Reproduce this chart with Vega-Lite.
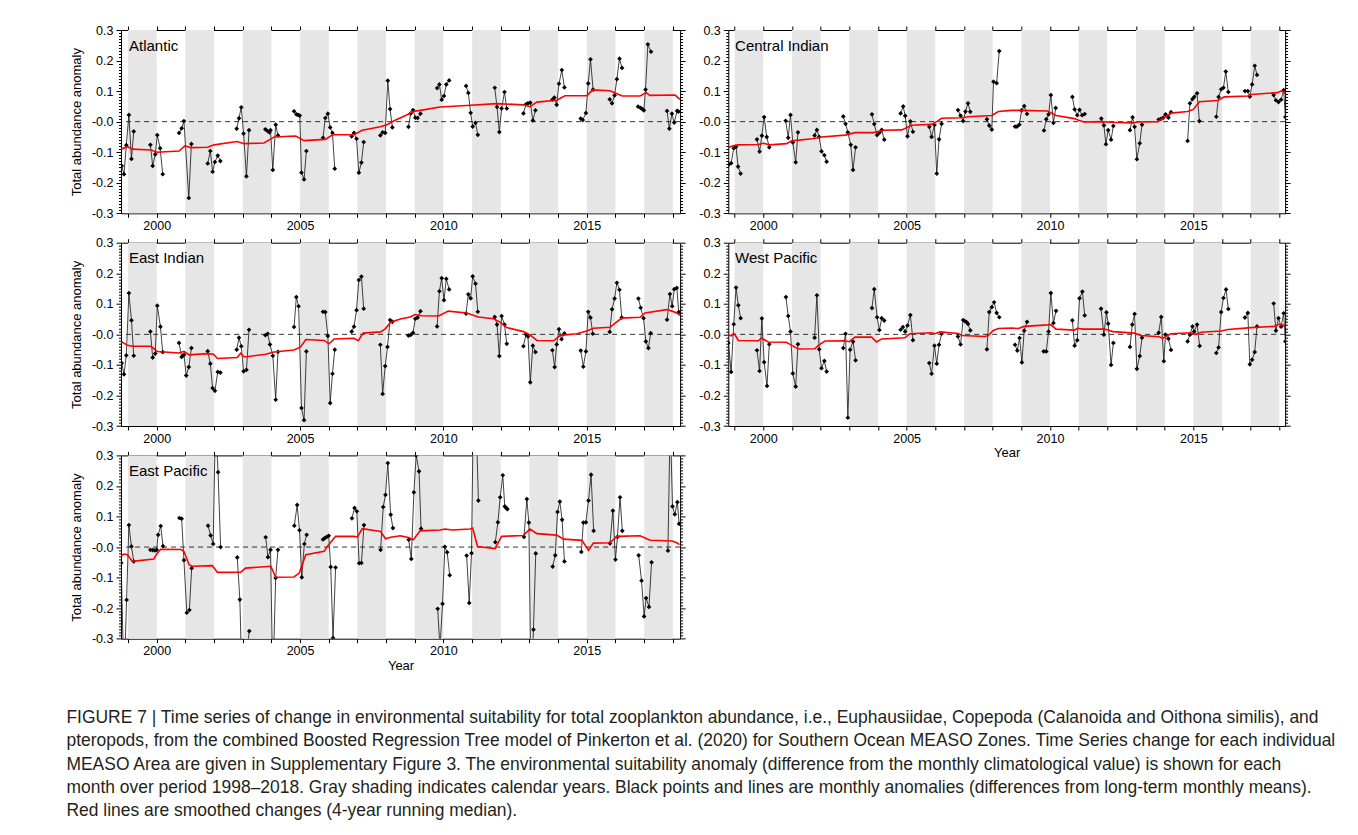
{
"$schema":"https://vega.github.io/schema/vega-lite/v6.json",
"background":"white",
"padding":{"left":66,"top":24,"right":5,"bottom":5},
"config":{"view":{"stroke":null},"font":"Liberation Sans","axis":{"domainColor":"#000","tickColor":"#000","labelColor":"#000","titleColor":"#000","labelFont":"Liberation Sans","titleFont":"Liberation Sans","labelFontSize":12.5,"titleFontSize":13,"titleFontWeight":"normal","grid":false,"domainWidth":1,"tickWidth":1}},
"title":{"text":["FIGURE 7 | Time series of change in environmental suitability for total zooplankton abundance, i.e., Euphausiidae, Copepoda (Calanoida and Oithona similis), and","pteropods, from the combined Boosted Regression Tree model of Pinkerton et al. (2020) for Southern Ocean MEASO Zones. Time Series change for each individual","MEASO Area are given in Supplementary Figure 3. The environmental suitability anomaly (difference from the monthly climatological value) is shown for each","month over period 1998–2018. Gray shading indicates calendar years. Black points and lines are monthly anomalies (differences from long-term monthly means).","Red lines are smoothed changes (4-year running median)."],"orient":"bottom","anchor":"start","frame":"bounds","fontSize":17.45,"fontWeight":"normal","font":"Liberation Sans","color":"#231f20","lineHeight":23.3,"offset":37,"dx":-4},
"datasets":{
"shade":[{"s":1999,"e":2000},{"s":2001,"e":2002},{"s":2003,"e":2004},{"s":2005,"e":2006},{"s":2007,"e":2008},{"s":2009,"e":2010},{"s":2011,"e":2012},{"s":2013,"e":2014},{"s":2015,"e":2016},{"s":2017,"e":2018}],
"pts":[
{"p":"A","g":98,"t":1998.78,"v":-0.145},{"p":"A","g":98,"t":1998.86,"v":-0.172},{"p":"A","g":98,"t":1998.94,"v":-0.077},{"p":"A","g":98,"t":1999.03,"v":0.022},{"p":"A","g":98,"t":1999.12,"v":-0.122},{"p":"A","g":98,"t":1999.2,"v":-0.032},
{"p":"A","g":99,"t":1999.78,"v":-0.076},{"p":"A","g":99,"t":1999.86,"v":-0.145},{"p":"A","g":99,"t":1999.95,"v":-0.107},{"p":"A","g":99,"t":2000.02,"v":-0.044},{"p":"A","g":99,"t":2000.12,"v":-0.087},{"p":"A","g":99,"t":2000.21,"v":-0.172},
{"p":"A","g":0,"t":2000.78,"v":-0.037},{"p":"A","g":0,"t":2000.87,"v":-0.022},{"p":"A","g":0,"t":2000.95,"v":0.002},{"p":"A","g":0,"t":2001.12,"v":-0.25},{"p":"A","g":0,"t":2001.21,"v":-0.073},
{"p":"A","g":1,"t":2001.78,"v":-0.137},{"p":"A","g":1,"t":2001.87,"v":-0.096},{"p":"A","g":1,"t":2001.95,"v":-0.164},{"p":"A","g":1,"t":2002.03,"v":-0.132},{"p":"A","g":1,"t":2002.13,"v":-0.111},{"p":"A","g":1,"t":2002.22,"v":-0.129},
{"p":"A","g":2,"t":2002.79,"v":-0.023},{"p":"A","g":2,"t":2002.87,"v":0.011},{"p":"A","g":2,"t":2002.95,"v":0.047},{"p":"A","g":2,"t":2003.03,"v":-0.039},{"p":"A","g":2,"t":2003.13,"v":-0.179},{"p":"A","g":2,"t":2003.22,"v":-0.028},
{"p":"A","g":3,"t":2003.79,"v":-0.025},{"p":"A","g":3,"t":2003.87,"v":-0.031},{"p":"A","g":3,"t":2003.93,"v":-0.035},{"p":"A","g":3,"t":2003.97,"v":-0.028},{"p":"A","g":3,"t":2004.05,"v":-0.158},{"p":"A","g":3,"t":2004.15,"v":-0.01},{"p":"A","g":3,"t":2004.23,"v":-0.045},
{"p":"A","g":4,"t":2004.79,"v":0.034},{"p":"A","g":4,"t":2004.87,"v":0.024},{"p":"A","g":4,"t":2004.93,"v":0.022},{"p":"A","g":4,"t":2004.99,"v":0.02},{"p":"A","g":4,"t":2005.05,"v":-0.167},{"p":"A","g":4,"t":2005.14,"v":-0.189},{"p":"A","g":4,"t":2005.22,"v":-0.096},
{"p":"A","g":5,"t":2005.8,"v":-0.053},{"p":"A","g":5,"t":2005.88,"v":0.012},{"p":"A","g":5,"t":2005.97,"v":0.026},{"p":"A","g":5,"t":2006.05,"v":-0.019},{"p":"A","g":5,"t":2006.13,"v":-0.037},{"p":"A","g":5,"t":2006.21,"v":-0.154},
{"p":"A","g":6,"t":2006.8,"v":-0.048},{"p":"A","g":6,"t":2006.88,"v":-0.037},{"p":"A","g":6,"t":2006.97,"v":-0.056},{"p":"A","g":6,"t":2007.05,"v":-0.167},{"p":"A","g":6,"t":2007.14,"v":-0.134},{"p":"A","g":6,"t":2007.22,"v":-0.067},
{"p":"A","g":7,"t":2007.8,"v":-0.045},{"p":"A","g":7,"t":2007.88,"v":-0.035},{"p":"A","g":7,"t":2007.97,"v":-0.037},{"p":"A","g":7,"t":2008.06,"v":0.134},{"p":"A","g":7,"t":2008.14,"v":0.041},{"p":"A","g":7,"t":2008.22,"v":-0.019},
{"p":"A","g":8,"t":2008.78,"v":-0.017},{"p":"A","g":8,"t":2008.86,"v":0.027},{"p":"A","g":8,"t":2008.94,"v":0.038},{"p":"A","g":8,"t":2009.02,"v":0.013},{"p":"A","g":8,"t":2009.1,"v":0.012},{"p":"A","g":8,"t":2009.2,"v":0.026},
{"p":"A","g":9,"t":2009.78,"v":0.11},{"p":"A","g":9,"t":2009.86,"v":0.122},{"p":"A","g":9,"t":2009.94,"v":0.072},{"p":"A","g":9,"t":2010.02,"v":0.084},{"p":"A","g":9,"t":2010.1,"v":0.122},{"p":"A","g":9,"t":2010.2,"v":0.135},
{"p":"A","g":10,"t":2010.79,"v":0.117},{"p":"A","g":10,"t":2010.87,"v":0.094},{"p":"A","g":10,"t":2010.95,"v":0.029},{"p":"A","g":10,"t":2011.02,"v":-0.016},{"p":"A","g":10,"t":2011.12,"v":-0.004},{"p":"A","g":10,"t":2011.2,"v":-0.043},
{"p":"A","g":11,"t":2011.79,"v":0.111},{"p":"A","g":11,"t":2011.87,"v":0.048},{"p":"A","g":11,"t":2011.95,"v":-0.034},{"p":"A","g":11,"t":2012.03,"v":0.043},{"p":"A","g":11,"t":2012.13,"v":0.097},{"p":"A","g":11,"t":2012.21,"v":0.043},
{"p":"A","g":12,"t":2012.79,"v":0.027},{"p":"A","g":12,"t":2012.88,"v":0.057},{"p":"A","g":12,"t":2012.95,"v":0.06},{"p":"A","g":12,"t":2013.03,"v":0.062},{"p":"A","g":12,"t":2013.12,"v":0.004},{"p":"A","g":12,"t":2013.21,"v":0.037},
{"p":"A","g":13,"t":2013.8,"v":0.072},{"p":"A","g":13,"t":2013.87,"v":0.079},{"p":"A","g":13,"t":2013.95,"v":0.055},{"p":"A","g":13,"t":2014.03,"v":0.124},{"p":"A","g":13,"t":2014.13,"v":0.169},{"p":"A","g":13,"t":2014.22,"v":0.112},
{"p":"A","g":14,"t":2014.79,"v":0.01},{"p":"A","g":14,"t":2014.86,"v":0.005},{"p":"A","g":14,"t":2014.97,"v":0.028},{"p":"A","g":14,"t":2015.05,"v":0.125},{"p":"A","g":14,"t":2015.13,"v":0.204},{"p":"A","g":14,"t":2015.22,"v":0.105},
{"p":"A","g":15,"t":2015.8,"v":0.073},{"p":"A","g":15,"t":2015.88,"v":0.06},{"p":"A","g":15,"t":2015.97,"v":0.086},{"p":"A","g":15,"t":2016.05,"v":0.139},{"p":"A","g":15,"t":2016.14,"v":0.206},{"p":"A","g":15,"t":2016.23,"v":0.176},
{"p":"A","g":16,"t":2016.79,"v":0.049},{"p":"A","g":16,"t":2016.88,"v":0.045},{"p":"A","g":16,"t":2016.94,"v":0.041},{"p":"A","g":16,"t":2016.99,"v":0.037},{"p":"A","g":16,"t":2017.05,"v":0.105},{"p":"A","g":16,"t":2017.13,"v":0.253},{"p":"A","g":16,"t":2017.24,"v":0.229},
{"p":"A","g":17,"t":2017.8,"v":0.035},{"p":"A","g":17,"t":2017.88,"v":-0.023},{"p":"A","g":17,"t":2017.97,"v":0.026},{"p":"A","g":17,"t":2018.05,"v":-0.003},{"p":"A","g":17,"t":2018.15,"v":0.035},{"p":"A","g":17,"t":2018.2,"v":0.033},
{"p":"C","g":98,"t":1998.8,"v":-0.14},{"p":"C","g":98,"t":1998.88,"v":-0.136},{"p":"C","g":98,"t":1998.97,"v":-0.087},{"p":"C","g":98,"t":1999.05,"v":-0.082},{"p":"C","g":98,"t":1999.12,"v":-0.147},{"p":"C","g":98,"t":1999.21,"v":-0.17},
{"p":"C","g":99,"t":1999.78,"v":-0.058},{"p":"C","g":99,"t":1999.87,"v":-0.098},{"p":"C","g":99,"t":1999.95,"v":-0.046},{"p":"C","g":99,"t":2000.03,"v":0.015},{"p":"C","g":99,"t":2000.12,"v":-0.05},{"p":"C","g":99,"t":2000.21,"v":-0.084},
{"p":"C","g":0,"t":2000.78,"v":0.003},{"p":"C","g":0,"t":2000.87,"v":-0.053},{"p":"C","g":0,"t":2000.95,"v":0.022},{"p":"C","g":0,"t":2001.03,"v":-0.068},{"p":"C","g":0,"t":2001.13,"v":-0.133},{"p":"C","g":0,"t":2001.21,"v":-0.035},
{"p":"C","g":1,"t":2001.79,"v":-0.045},{"p":"C","g":1,"t":2001.87,"v":-0.027},{"p":"C","g":1,"t":2001.95,"v":-0.05},{"p":"C","g":1,"t":2002.03,"v":-0.097},{"p":"C","g":1,"t":2002.13,"v":-0.11},{"p":"C","g":1,"t":2002.21,"v":-0.131},
{"p":"C","g":2,"t":2002.79,"v":0.017},{"p":"C","g":2,"t":2002.87,"v":-0.007},{"p":"C","g":2,"t":2002.95,"v":-0.035},{"p":"C","g":2,"t":2003.05,"v":-0.076},{"p":"C","g":2,"t":2003.13,"v":-0.158},{"p":"C","g":2,"t":2003.22,"v":-0.084},
{"p":"C","g":3,"t":2003.79,"v":0.024},{"p":"C","g":3,"t":2003.87,"v":-0.008},{"p":"C","g":3,"t":2003.97,"v":-0.044},{"p":"C","g":3,"t":2004.05,"v":-0.036},{"p":"C","g":3,"t":2004.13,"v":-0.027},{"p":"C","g":3,"t":2004.22,"v":-0.059},
{"p":"C","g":4,"t":2004.79,"v":0.027},{"p":"C","g":4,"t":2004.88,"v":0.05},{"p":"C","g":4,"t":2004.95,"v":0.019},{"p":"C","g":4,"t":2005.03,"v":-0.048},{"p":"C","g":4,"t":2005.13,"v":0.001},{"p":"C","g":4,"t":2005.22,"v":-0.033},
{"p":"C","g":5,"t":2005.79,"v":-0.017},{"p":"C","g":5,"t":2005.87,"v":-0.05},{"p":"C","g":5,"t":2005.97,"v":-0.011},{"p":"C","g":5,"t":2006.05,"v":-0.17},{"p":"C","g":5,"t":2006.13,"v":-0.058},{"p":"C","g":5,"t":2006.22,"v":-0.007},
{"p":"C","g":6,"t":2006.79,"v":0.038},{"p":"C","g":6,"t":2006.88,"v":0.02},{"p":"C","g":6,"t":2006.97,"v":0.002},{"p":"C","g":6,"t":2007.05,"v":0.033},{"p":"C","g":6,"t":2007.14,"v":0.06},{"p":"C","g":6,"t":2007.22,"v":0.032},
{"p":"C","g":7,"t":2007.8,"v":0.008},{"p":"C","g":7,"t":2007.88,"v":-0.013},{"p":"C","g":7,"t":2007.97,"v":-0.026},{"p":"C","g":7,"t":2008.03,"v":0.131},{"p":"C","g":7,"t":2008.14,"v":0.126},{"p":"C","g":7,"t":2008.23,"v":0.231},
{"p":"C","g":8,"t":2008.78,"v":-0.016},{"p":"C","g":8,"t":2008.85,"v":-0.016},{"p":"C","g":8,"t":2008.93,"v":-0.01},{"p":"C","g":8,"t":2009.01,"v":0.037},{"p":"C","g":8,"t":2009.1,"v":0.051},{"p":"C","g":8,"t":2009.2,"v":0.025},
{"p":"C","g":9,"t":2009.79,"v":-0.029},{"p":"C","g":9,"t":2009.87,"v":0.008},{"p":"C","g":9,"t":2009.95,"v":0.024},{"p":"C","g":9,"t":2010.03,"v":0.087},{"p":"C","g":9,"t":2010.12,"v":-0.004},{"p":"C","g":9,"t":2010.2,"v":0.045},
{"p":"C","g":10,"t":2010.78,"v":0.081},{"p":"C","g":10,"t":2010.86,"v":0.04},{"p":"C","g":10,"t":2010.95,"v":0.021},{"p":"C","g":10,"t":2011.03,"v":0.039},{"p":"C","g":10,"t":2011.12,"v":0.021},{"p":"C","g":10,"t":2011.21,"v":0.025},
{"p":"C","g":11,"t":2011.79,"v":0.01},{"p":"C","g":11,"t":2011.88,"v":-0.012},{"p":"C","g":11,"t":2011.95,"v":-0.074},{"p":"C","g":11,"t":2012.03,"v":-0.028},{"p":"C","g":11,"t":2012.13,"v":-0.059},{"p":"C","g":11,"t":2012.21,"v":-0.014},
{"p":"C","g":12,"t":2012.79,"v":-0.028},{"p":"C","g":12,"t":2012.88,"v":0.014},{"p":"C","g":12,"t":2012.95,"v":-0.017},{"p":"C","g":12,"t":2013.03,"v":-0.123},{"p":"C","g":12,"t":2013.13,"v":-0.071},{"p":"C","g":12,"t":2013.21,"v":-0.01},
{"p":"C","g":13,"t":2013.79,"v":0.007},{"p":"C","g":13,"t":2013.87,"v":0.009},{"p":"C","g":13,"t":2013.95,"v":0.013},{"p":"C","g":13,"t":2014.03,"v":0.024},{"p":"C","g":13,"t":2014.13,"v":0.013},{"p":"C","g":13,"t":2014.22,"v":0.031},
{"p":"C","g":14,"t":2014.8,"v":-0.063},{"p":"C","g":14,"t":2014.88,"v":0.06},{"p":"C","g":14,"t":2014.97,"v":0.074},{"p":"C","g":14,"t":2015.03,"v":0.081},{"p":"C","g":14,"t":2015.13,"v":0.093},{"p":"C","g":14,"t":2015.21,"v":0.002},
{"p":"C","g":15,"t":2015.8,"v":0.016},{"p":"C","g":15,"t":2015.88,"v":0.081},{"p":"C","g":15,"t":2015.97,"v":0.106},{"p":"C","g":15,"t":2016.05,"v":0.111},{"p":"C","g":15,"t":2016.13,"v":0.164},{"p":"C","g":15,"t":2016.22,"v":0.097},
{"p":"C","g":16,"t":2016.8,"v":0.1},{"p":"C","g":16,"t":2016.9,"v":0.1},{"p":"C","g":16,"t":2016.97,"v":0.082},{"p":"C","g":16,"t":2017.05,"v":0.122},{"p":"C","g":16,"t":2017.14,"v":0.183},{"p":"C","g":16,"t":2017.22,"v":0.153},
{"p":"C","g":17,"t":2017.8,"v":0.087},{"p":"C","g":17,"t":2017.88,"v":0.07},{"p":"C","g":17,"t":2017.97,"v":0.064},{"p":"C","g":17,"t":2018.06,"v":0.072},{"p":"C","g":17,"t":2018.15,"v":0.103},{"p":"C","g":17,"t":2018.21,"v":0.015},
{"p":"E","g":98,"t":1998.78,"v":-0.094},{"p":"E","g":98,"t":1998.86,"v":-0.131},{"p":"E","g":98,"t":1998.94,"v":-0.069},{"p":"E","g":98,"t":1999.03,"v":0.135},{"p":"E","g":98,"t":1999.12,"v":0.046},{"p":"E","g":98,"t":1999.2,"v":-0.07},
{"p":"E","g":99,"t":1999.78,"v":0.009},{"p":"E","g":99,"t":1999.86,"v":-0.076},{"p":"E","g":99,"t":1999.95,"v":-0.063},{"p":"E","g":99,"t":2000.02,"v":0.094},{"p":"E","g":99,"t":2000.13,"v":0.025},{"p":"E","g":99,"t":2000.21,"v":-0.058},
{"p":"E","g":0,"t":2000.78,"v":-0.028},{"p":"E","g":0,"t":2000.87,"v":-0.074},{"p":"E","g":0,"t":2000.95,"v":-0.067},{"p":"E","g":0,"t":2001.03,"v":-0.135},{"p":"E","g":0,"t":2001.12,"v":-0.107},{"p":"E","g":0,"t":2001.21,"v":-0.045},
{"p":"E","g":1,"t":2001.78,"v":-0.055},{"p":"E","g":1,"t":2001.87,"v":-0.096},{"p":"E","g":1,"t":2001.95,"v":-0.176},{"p":"E","g":1,"t":2002.03,"v":-0.185},{"p":"E","g":1,"t":2002.13,"v":-0.123},{"p":"E","g":1,"t":2002.22,"v":-0.125},
{"p":"E","g":2,"t":2002.79,"v":-0.05},{"p":"E","g":2,"t":2002.87,"v":-0.011},{"p":"E","g":2,"t":2002.95,"v":-0.039},{"p":"E","g":2,"t":2003.03,"v":-0.121},{"p":"E","g":2,"t":2003.13,"v":-0.116},{"p":"E","g":2,"t":2003.22,"v":0.015},
{"p":"E","g":3,"t":2003.79,"v":-0.003},{"p":"E","g":3,"t":2003.87,"v":0.002},{"p":"E","g":3,"t":2003.95,"v":-0.033},{"p":"E","g":3,"t":2004.05,"v":-0.07},{"p":"E","g":3,"t":2004.15,"v":-0.214},{"p":"E","g":3,"t":2004.23,"v":-0.057},
{"p":"E","g":4,"t":2004.79,"v":0.024},{"p":"E","g":4,"t":2004.87,"v":0.122},{"p":"E","g":4,"t":2004.95,"v":0.092},{"p":"E","g":4,"t":2005.05,"v":-0.241},{"p":"E","g":4,"t":2005.14,"v":-0.281},{"p":"E","g":4,"t":2005.22,"v":-0.056},
{"p":"E","g":5,"t":2005.8,"v":0.074},{"p":"E","g":5,"t":2005.88,"v":0.073},{"p":"E","g":5,"t":2005.97,"v":-0.005},{"p":"E","g":5,"t":2006.05,"v":-0.225},{"p":"E","g":5,"t":2006.13,"v":-0.129},{"p":"E","g":5,"t":2006.21,"v":-0.05},
{"p":"E","g":6,"t":2006.8,"v":0.009},{"p":"E","g":6,"t":2006.88,"v":0.025},{"p":"E","g":6,"t":2006.97,"v":0.079},{"p":"E","g":6,"t":2007.05,"v":0.178},{"p":"E","g":6,"t":2007.14,"v":0.189},{"p":"E","g":6,"t":2007.22,"v":0.084},
{"p":"E","g":7,"t":2007.8,"v":-0.034},{"p":"E","g":7,"t":2007.88,"v":-0.195},{"p":"E","g":7,"t":2007.97,"v":-0.104},{"p":"E","g":7,"t":2008.05,"v":-0.041},{"p":"E","g":7,"t":2008.14,"v":0.047},{"p":"E","g":7,"t":2008.22,"v":0.041},
{"p":"E","g":8,"t":2008.78,"v":-0.004},{"p":"E","g":8,"t":2008.86,"v":-0.002},{"p":"E","g":8,"t":2008.94,"v":0.005},{"p":"E","g":8,"t":2009.02,"v":0.051},{"p":"E","g":8,"t":2009.1,"v":0.055},{"p":"E","g":8,"t":2009.2,"v":0.076},
{"p":"E","g":9,"t":2009.78,"v":0.026},{"p":"E","g":9,"t":2009.86,"v":0.141},{"p":"E","g":9,"t":2009.94,"v":0.184},{"p":"E","g":9,"t":2010.02,"v":0.112},{"p":"E","g":9,"t":2010.1,"v":0.182},{"p":"E","g":9,"t":2010.2,"v":0.147},
{"p":"E","g":10,"t":2010.79,"v":0.068},{"p":"E","g":10,"t":2010.87,"v":0.131},{"p":"E","g":10,"t":2010.95,"v":0.118},{"p":"E","g":10,"t":2011.02,"v":0.19},{"p":"E","g":10,"t":2011.12,"v":0.166},{"p":"E","g":10,"t":2011.2,"v":0.074},
{"p":"E","g":11,"t":2011.79,"v":0.057},{"p":"E","g":11,"t":2011.87,"v":0.032},{"p":"E","g":11,"t":2011.95,"v":-0.071},{"p":"E","g":11,"t":2012.03,"v":0.06},{"p":"E","g":11,"t":2012.13,"v":0.032},{"p":"E","g":11,"t":2012.21,"v":-0.031},
{"p":"E","g":12,"t":2012.79,"v":-0.039},{"p":"E","g":12,"t":2012.88,"v":0.0},{"p":"E","g":12,"t":2012.95,"v":-0.007},{"p":"E","g":12,"t":2013.03,"v":-0.157},{"p":"E","g":12,"t":2013.12,"v":-0.037},{"p":"E","g":12,"t":2013.21,"v":-0.058},
{"p":"E","g":13,"t":2013.8,"v":-0.052},{"p":"E","g":13,"t":2013.88,"v":-0.107},{"p":"E","g":13,"t":2013.95,"v":-0.033},{"p":"E","g":13,"t":2014.03,"v":0.017},{"p":"E","g":13,"t":2014.12,"v":-0.016},{"p":"E","g":13,"t":2014.22,"v":0.003},
{"p":"E","g":14,"t":2014.79,"v":-0.053},{"p":"E","g":14,"t":2014.88,"v":-0.106},{"p":"E","g":14,"t":2014.97,"v":-0.056},{"p":"E","g":14,"t":2015.05,"v":0.074},{"p":"E","g":14,"t":2015.13,"v":0.055},{"p":"E","g":14,"t":2015.21,"v":0.002},
{"p":"E","g":15,"t":2015.8,"v":0.008},{"p":"E","g":15,"t":2015.88,"v":0.082},{"p":"E","g":15,"t":2015.97,"v":0.117},{"p":"E","g":15,"t":2016.05,"v":0.169},{"p":"E","g":15,"t":2016.14,"v":0.146},{"p":"E","g":15,"t":2016.22,"v":0.055},
{"p":"E","g":16,"t":2016.8,"v":0.117},{"p":"E","g":16,"t":2016.88,"v":0.087},{"p":"E","g":16,"t":2016.98,"v":0.053},{"p":"E","g":16,"t":2017.06,"v":-0.023},{"p":"E","g":16,"t":2017.15,"v":-0.045},{"p":"E","g":16,"t":2017.23,"v":0.004},
{"p":"E","g":17,"t":2017.8,"v":0.048},{"p":"E","g":17,"t":2017.9,"v":0.132},{"p":"E","g":17,"t":2017.98,"v":0.092},{"p":"E","g":17,"t":2018.05,"v":0.148},{"p":"E","g":17,"t":2018.14,"v":0.152},{"p":"E","g":17,"t":2018.21,"v":0.073},
{"p":"W","g":98,"t":1998.78,"v":-0.028},{"p":"W","g":98,"t":1998.88,"v":-0.123},{"p":"W","g":98,"t":1998.97,"v":0.033},{"p":"W","g":98,"t":1999.05,"v":0.153},{"p":"W","g":98,"t":1999.13,"v":0.095},{"p":"W","g":98,"t":1999.21,"v":0.053},
{"p":"W","g":99,"t":1999.78,"v":-0.052},{"p":"W","g":99,"t":1999.87,"v":-0.12},{"p":"W","g":99,"t":1999.95,"v":0.052},{"p":"W","g":99,"t":2000.03,"v":-0.091},{"p":"W","g":99,"t":2000.13,"v":-0.169},{"p":"W","g":99,"t":2000.21,"v":-0.032},
{"p":"W","g":0,"t":2000.79,"v":0.122},{"p":"W","g":0,"t":2000.87,"v":0.06},{"p":"W","g":0,"t":2000.95,"v":0.009},{"p":"W","g":0,"t":2001.03,"v":-0.128},{"p":"W","g":0,"t":2001.13,"v":-0.171},{"p":"W","g":0,"t":2001.21,"v":-0.032},
{"p":"W","g":1,"t":2001.79,"v":-0.011},{"p":"W","g":1,"t":2001.87,"v":0.128},{"p":"W","g":1,"t":2001.95,"v":-0.049},{"p":"W","g":1,"t":2002.03,"v":-0.111},{"p":"W","g":1,"t":2002.13,"v":-0.087},{"p":"W","g":1,"t":2002.21,"v":-0.122},
{"p":"W","g":2,"t":2002.79,"v":-0.045},{"p":"W","g":2,"t":2002.87,"v":0.002},{"p":"W","g":2,"t":2002.95,"v":-0.273},{"p":"W","g":2,"t":2003.03,"v":-0.05},{"p":"W","g":2,"t":2003.13,"v":-0.024},{"p":"W","g":2,"t":2003.22,"v":-0.085},
{"p":"W","g":3,"t":2003.79,"v":0.086},{"p":"W","g":3,"t":2003.87,"v":0.148},{"p":"W","g":3,"t":2003.97,"v":0.056},{"p":"W","g":3,"t":2004.05,"v":0.014},{"p":"W","g":3,"t":2004.13,"v":0.053},{"p":"W","g":3,"t":2004.22,"v":0.045},
{"p":"W","g":4,"t":2004.79,"v":0.015},{"p":"W","g":4,"t":2004.87,"v":0.024},{"p":"W","g":4,"t":2004.95,"v":0.009},{"p":"W","g":4,"t":2005.03,"v":0.029},{"p":"W","g":4,"t":2005.13,"v":0.063},{"p":"W","g":4,"t":2005.22,"v":-0.019},
{"p":"W","g":5,"t":2005.79,"v":-0.094},{"p":"W","g":5,"t":2005.87,"v":-0.129},{"p":"W","g":5,"t":2005.97,"v":-0.037},{"p":"W","g":5,"t":2006.05,"v":-0.096},{"p":"W","g":5,"t":2006.13,"v":-0.034},{"p":"W","g":5,"t":2006.22,"v":0.002},
{"p":"W","g":6,"t":2006.79,"v":-0.007},{"p":"W","g":6,"t":2006.88,"v":-0.033},{"p":"W","g":6,"t":2006.97,"v":0.047},{"p":"W","g":6,"t":2007.03,"v":0.043},{"p":"W","g":6,"t":2007.09,"v":0.04},{"p":"W","g":6,"t":2007.14,"v":0.034},{"p":"W","g":6,"t":2007.22,"v":0.013},
{"p":"W","g":7,"t":2007.8,"v":-0.049},{"p":"W","g":7,"t":2007.88,"v":0.073},{"p":"W","g":7,"t":2007.97,"v":0.089},{"p":"W","g":7,"t":2008.05,"v":0.105},{"p":"W","g":7,"t":2008.14,"v":0.07},{"p":"W","g":7,"t":2008.23,"v":0.056},
{"p":"W","g":8,"t":2008.78,"v":-0.034},{"p":"W","g":8,"t":2008.86,"v":-0.053},{"p":"W","g":8,"t":2008.94,"v":-0.012},{"p":"W","g":8,"t":2009.02,"v":-0.092},{"p":"W","g":8,"t":2009.1,"v":0.012},{"p":"W","g":8,"t":2009.2,"v":0.041},
{"p":"W","g":9,"t":2009.78,"v":-0.056},{"p":"W","g":9,"t":2009.87,"v":-0.056},{"p":"W","g":9,"t":2009.95,"v":0.009},{"p":"W","g":9,"t":2010.03,"v":0.135},{"p":"W","g":9,"t":2010.12,"v":0.037},{"p":"W","g":9,"t":2010.21,"v":0.077},
{"p":"W","g":10,"t":2010.78,"v":0.046},{"p":"W","g":10,"t":2010.86,"v":-0.037},{"p":"W","g":10,"t":2010.95,"v":-0.019},{"p":"W","g":10,"t":2011.03,"v":0.118},{"p":"W","g":10,"t":2011.13,"v":0.14},{"p":"W","g":10,"t":2011.21,"v":0.062},
{"p":"W","g":11,"t":2011.78,"v":0.084},{"p":"W","g":11,"t":2011.88,"v":-0.001},{"p":"W","g":11,"t":2011.97,"v":0.072},{"p":"W","g":11,"t":2012.03,"v":0.035},{"p":"W","g":11,"t":2012.13,"v":-0.1},{"p":"W","g":11,"t":2012.21,"v":-0.028},
{"p":"W","g":12,"t":2012.79,"v":-0.041},{"p":"W","g":12,"t":2012.87,"v":0.032},{"p":"W","g":12,"t":2012.95,"v":0.067},{"p":"W","g":12,"t":2013.03,"v":-0.113},{"p":"W","g":12,"t":2013.13,"v":-0.071},{"p":"W","g":12,"t":2013.21,"v":-0.011},
{"p":"W","g":13,"t":2013.79,"v":0.005},{"p":"W","g":13,"t":2013.88,"v":0.057},{"p":"W","g":13,"t":2013.97,"v":-0.088},{"p":"W","g":13,"t":2014.03,"v":-0.001},{"p":"W","g":13,"t":2014.13,"v":-0.014},{"p":"W","g":13,"t":2014.22,"v":-0.051},
{"p":"W","g":14,"t":2014.8,"v":-0.023},{"p":"W","g":14,"t":2014.88,"v":-0.001},{"p":"W","g":14,"t":2014.97,"v":0.026},{"p":"W","g":14,"t":2015.03,"v":0.009},{"p":"W","g":14,"t":2015.13,"v":0.032},{"p":"W","g":14,"t":2015.22,"v":-0.038},
{"p":"W","g":15,"t":2015.8,"v":-0.061},{"p":"W","g":15,"t":2015.88,"v":-0.043},{"p":"W","g":15,"t":2015.97,"v":0.073},{"p":"W","g":15,"t":2016.05,"v":0.119},{"p":"W","g":15,"t":2016.14,"v":0.147},{"p":"W","g":15,"t":2016.22,"v":0.083},
{"p":"W","g":16,"t":2016.8,"v":0.055},{"p":"W","g":16,"t":2016.9,"v":0.07},{"p":"W","g":16,"t":2016.97,"v":-0.098},{"p":"W","g":16,"t":2017.05,"v":-0.083},{"p":"W","g":16,"t":2017.14,"v":-0.058},{"p":"W","g":16,"t":2017.22,"v":0.026},
{"p":"W","g":17,"t":2017.8,"v":0.101},{"p":"W","g":17,"t":2017.88,"v":0.012},{"p":"W","g":17,"t":2017.97,"v":0.053},{"p":"W","g":17,"t":2018.06,"v":0.025},{"p":"W","g":17,"t":2018.15,"v":0.069},{"p":"W","g":17,"t":2018.21,"v":-0.023},
{"p":"P","g":98,"t":1998.76,"v":-0.052},{"p":"P","g":98,"t":1998.86,"v":-0.45},{"p":"P","g":98,"t":1998.95,"v":-0.173},{"p":"P","g":98,"t":1999.03,"v":0.072},{"p":"P","g":98,"t":1999.12,"v":0.002},{"p":"P","g":98,"t":1999.2,"v":-0.047},
{"p":"P","g":99,"t":1999.78,"v":-0.009},{"p":"P","g":99,"t":1999.86,"v":-0.01},{"p":"P","g":99,"t":1999.94,"v":-0.011},{"p":"P","g":99,"t":2000.0,"v":-0.009},{"p":"P","g":99,"t":2000.05,"v":0.04},{"p":"P","g":99,"t":2000.14,"v":0.069},{"p":"P","g":99,"t":2000.22,"v":0.003},
{"p":"P","g":0,"t":2000.79,"v":0.095},{"p":"P","g":0,"t":2000.87,"v":0.093},{"p":"P","g":0,"t":2000.95,"v":-0.043},{"p":"P","g":0,"t":2001.05,"v":-0.215},{"p":"P","g":0,"t":2001.14,"v":-0.206},{"p":"P","g":0,"t":2001.22,"v":-0.069},
{"p":"P","g":1,"t":2001.79,"v":0.07},{"p":"P","g":1,"t":2001.88,"v":0.038},{"p":"P","g":1,"t":2001.97,"v":0.01},{"p":"P","g":1,"t":2002.05,"v":0.42},{"p":"P","g":1,"t":2002.14,"v":0.245},{"p":"P","g":1,"t":2002.23,"v":0.0},
{"p":"P","g":2,"t":2002.81,"v":-0.034},{"p":"P","g":2,"t":2002.9,"v":-0.172},{"p":"P","g":2,"t":2002.98,"v":-0.45},{"p":"P","g":2,"t":2003.08,"v":-0.48},{"p":"P","g":2,"t":2003.16,"v":-0.33},{"p":"P","g":2,"t":2003.23,"v":-0.275},
{"p":"P","g":3,"t":2003.8,"v":0.032},{"p":"P","g":3,"t":2003.88,"v":-0.033},{"p":"P","g":3,"t":2003.97,"v":-0.009},{"p":"P","g":3,"t":2004.05,"v":-0.45},{"p":"P","g":3,"t":2004.15,"v":-0.101},{"p":"P","g":3,"t":2004.23,"v":-0.009},
{"p":"P","g":4,"t":2004.8,"v":0.07},{"p":"P","g":4,"t":2004.9,"v":0.138},{"p":"P","g":4,"t":2004.98,"v":0.055},{"p":"P","g":4,"t":2005.06,"v":-0.099},{"p":"P","g":4,"t":2005.15,"v":0.01},{"p":"P","g":4,"t":2005.23,"v":0.04},
{"p":"P","g":5,"t":2005.8,"v":0.025},{"p":"P","g":5,"t":2005.86,"v":0.029},{"p":"P","g":5,"t":2005.93,"v":0.033},{"p":"P","g":5,"t":2006.0,"v":0.037},{"p":"P","g":5,"t":2006.07,"v":-0.065},{"p":"P","g":5,"t":2006.15,"v":-0.298},{"p":"P","g":5,"t":2006.24,"v":-0.067},
{"p":"P","g":6,"t":2006.81,"v":0.094},{"p":"P","g":6,"t":2006.9,"v":0.128},{"p":"P","g":6,"t":2006.98,"v":0.117},{"p":"P","g":6,"t":2007.06,"v":-0.053},{"p":"P","g":6,"t":2007.14,"v":-0.052},{"p":"P","g":6,"t":2007.23,"v":0.072},
{"p":"P","g":7,"t":2007.81,"v":-0.009},{"p":"P","g":7,"t":2007.9,"v":0.131},{"p":"P","g":7,"t":2007.98,"v":0.171},{"p":"P","g":7,"t":2008.06,"v":0.275},{"p":"P","g":7,"t":2008.16,"v":0.106},{"p":"P","g":7,"t":2008.24,"v":0.062},
{"p":"P","g":8,"t":2008.79,"v":0.024},{"p":"P","g":8,"t":2008.88,"v":-0.039},{"p":"P","g":8,"t":2008.97,"v":0.179},{"p":"P","g":8,"t":2009.05,"v":0.3},{"p":"P","g":8,"t":2009.15,"v":0.248},{"p":"P","g":8,"t":2009.22,"v":0.06},
{"p":"P","g":9,"t":2009.8,"v":-0.202},{"p":"P","g":9,"t":2009.88,"v":-0.33},{"p":"P","g":9,"t":2009.97,"v":-0.186},{"p":"P","g":9,"t":2010.05,"v":0.001},{"p":"P","g":9,"t":2010.13,"v":-0.017},{"p":"P","g":9,"t":2010.22,"v":-0.092},
{"p":"P","g":10,"t":2010.81,"v":-0.028},{"p":"P","g":10,"t":2010.9,"v":-0.183},{"p":"P","g":10,"t":2010.98,"v":-0.02},{"p":"P","g":10,"t":2011.05,"v":0.5},{"p":"P","g":10,"t":2011.14,"v":0.42},{"p":"P","g":10,"t":2011.22,"v":0.152},
{"p":"P","g":11,"t":2011.81,"v":0.016},{"p":"P","g":11,"t":2011.9,"v":0.081},{"p":"P","g":11,"t":2011.98,"v":0.163},{"p":"P","g":11,"t":2012.07,"v":0.235},{"p":"P","g":11,"t":2012.14,"v":0.133},{"p":"P","g":11,"t":2012.19,"v":0.128},{"p":"P","g":11,"t":2012.23,"v":0.124},
{"p":"P","g":12,"t":2012.81,"v":0.033},{"p":"P","g":12,"t":2012.91,"v":0.157},{"p":"P","g":12,"t":2012.98,"v":0.08},{"p":"P","g":12,"t":2013.06,"v":-0.5},{"p":"P","g":12,"t":2013.14,"v":-0.27},{"p":"P","g":12,"t":2013.22,"v":-0.021},
{"p":"P","g":13,"t":2013.81,"v":-0.064},{"p":"P","g":13,"t":2013.9,"v":-0.027},{"p":"P","g":13,"t":2013.98,"v":0.115},{"p":"P","g":13,"t":2014.06,"v":0.149},{"p":"P","g":13,"t":2014.14,"v":0.089},{"p":"P","g":13,"t":2014.22,"v":-0.047},
{"p":"P","g":14,"t":2014.81,"v":-0.016},{"p":"P","g":14,"t":2014.88,"v":0.08},{"p":"P","g":14,"t":2014.97,"v":0.081},{"p":"P","g":14,"t":2015.06,"v":0.152},{"p":"P","g":14,"t":2015.15,"v":0.237},{"p":"P","g":14,"t":2015.24,"v":0.053},
{"p":"P","g":15,"t":2015.81,"v":0.012},{"p":"P","g":15,"t":2015.91,"v":0.119},{"p":"P","g":15,"t":2016.0,"v":-0.041},{"p":"P","g":15,"t":2016.07,"v":0.033},{"p":"P","g":15,"t":2016.16,"v":0.163},{"p":"P","g":15,"t":2016.24,"v":0.053},
{"p":"P","g":16,"t":2016.81,"v":-0.027},{"p":"P","g":16,"t":2016.91,"v":-0.11},{"p":"P","g":16,"t":2017.0,"v":-0.227},{"p":"P","g":16,"t":2017.07,"v":-0.167},{"p":"P","g":16,"t":2017.17,"v":-0.196},{"p":"P","g":16,"t":2017.26,"v":-0.05},
{"p":"P","g":17,"t":2017.83,"v":-0.012},{"p":"P","g":17,"t":2017.91,"v":0.42},{"p":"P","g":17,"t":2017.99,"v":0.133},{"p":"P","g":17,"t":2018.07,"v":0.107},{"p":"P","g":17,"t":2018.16,"v":0.147},{"p":"P","g":17,"t":2018.22,"v":0.076}
],
"red":[
{"p":"A","t":1998.76,"v":-0.09},{"p":"A","t":1998.98,"v":-0.082},{"p":"A","t":1999.15,"v":-0.09},{"p":"A","t":1999.8,"v":-0.093},{"p":"A","t":2000.02,"v":-0.1},{"p":"A","t":2000.78,"v":-0.096},{"p":"A","t":2000.98,"v":-0.079},{"p":"A","t":2001.19,"v":-0.085},{"p":"A","t":2001.77,"v":-0.084},{"p":"A","t":2002.0,"v":-0.076},{"p":"A","t":2002.8,"v":-0.065},{"p":"A","t":2003.05,"v":-0.072},{"p":"A","t":2003.74,"v":-0.07},{"p":"A","t":2004.1,"v":-0.05},{"p":"A","t":2004.85,"v":-0.047},{"p":"A","t":2005.14,"v":-0.062},{"p":"A","t":2005.88,"v":-0.058},{"p":"A","t":2006.13,"v":-0.043},{"p":"A","t":2006.88,"v":-0.043},{"p":"A","t":2007.17,"v":-0.028},{"p":"A","t":2007.8,"v":-0.017},{"p":"A","t":2008.05,"v":-0.009},{"p":"A","t":2008.28,"v":0.003},{"p":"A","t":2008.72,"v":0.022},{"p":"A","t":2008.95,"v":0.033},{"p":"A","t":2009.2,"v":0.037},{"p":"A","t":2009.88,"v":0.048},{"p":"A","t":2010.81,"v":0.053},{"p":"A","t":2011.86,"v":0.059},{"p":"A","t":2012.79,"v":0.055},{"p":"A","t":2013.02,"v":0.049},{"p":"A","t":2013.26,"v":0.064},{"p":"A","t":2013.95,"v":0.07},{"p":"A","t":2014.24,"v":0.085},{"p":"A","t":2015.0,"v":0.085},{"p":"A","t":2015.21,"v":0.104},{"p":"A","t":2015.81,"v":0.101},{"p":"A","t":2016.24,"v":0.084},{"p":"A","t":2016.86,"v":0.084},{"p":"A","t":2017.07,"v":0.095},{"p":"A","t":2017.2,"v":0.086},{"p":"A","t":2018.08,"v":0.087},{"p":"A","t":2018.25,"v":0.073},
{"p":"C","t":1998.78,"v":-0.085},{"p":"C","t":1998.95,"v":-0.079},{"p":"C","t":1999.13,"v":-0.076},{"p":"C","t":1999.83,"v":-0.075},{"p":"C","t":2000.0,"v":-0.071},{"p":"C","t":2000.23,"v":-0.076},{"p":"C","t":2000.81,"v":-0.072},{"p":"C","t":2000.99,"v":-0.063},{"p":"C","t":2001.71,"v":-0.056},{"p":"C","t":2002.03,"v":-0.05},{"p":"C","t":2002.85,"v":-0.044},{"p":"C","t":2003.2,"v":-0.036},{"p":"C","t":2003.84,"v":-0.036},{"p":"C","t":2004.19,"v":-0.028},{"p":"C","t":2004.83,"v":-0.027},{"p":"C","t":2005.17,"v":-0.012},{"p":"C","t":2005.87,"v":-0.009},{"p":"C","t":2006.05,"v":0.0},{"p":"C","t":2006.22,"v":0.011},{"p":"C","t":2006.92,"v":0.013},{"p":"C","t":2007.15,"v":0.016},{"p":"C","t":2007.97,"v":0.02},{"p":"C","t":2008.2,"v":0.033},{"p":"C","t":2008.66,"v":0.037},{"p":"C","t":2008.99,"v":0.037},{"p":"C","t":2009.92,"v":0.035},{"p":"C","t":2010.21,"v":0.02},{"p":"C","t":2010.85,"v":0.01},{"p":"C","t":2011.02,"v":0.004},{"p":"C","t":2011.2,"v":-0.001},{"p":"C","t":2011.78,"v":0.0},{"p":"C","t":2012.13,"v":-0.002},{"p":"C","t":2012.88,"v":-0.004},{"p":"C","t":2013.06,"v":-0.001},{"p":"C","t":2013.76,"v":0.0},{"p":"C","t":2014.22,"v":0.028},{"p":"C","t":2014.8,"v":0.033},{"p":"C","t":2015.0,"v":0.04},{"p":"C","t":2015.21,"v":0.065},{"p":"C","t":2015.85,"v":0.069},{"p":"C","t":2016.08,"v":0.081},{"p":"C","t":2016.9,"v":0.084},{"p":"C","t":2017.01,"v":0.089},{"p":"C","t":2017.94,"v":0.095},{"p":"C","t":2018.06,"v":0.1},{"p":"C","t":2018.17,"v":0.099},{"p":"C","t":2018.21,"v":0.09},
{"p":"E","t":1998.76,"v":-0.023},{"p":"E","t":1998.98,"v":-0.036},{"p":"E","t":1999.15,"v":-0.039},{"p":"E","t":1999.8,"v":-0.039},{"p":"E","t":2000.02,"v":-0.056},{"p":"E","t":2000.78,"v":-0.061},{"p":"E","t":2000.95,"v":-0.056},{"p":"E","t":2001.13,"v":-0.067},{"p":"E","t":2001.77,"v":-0.063},{"p":"E","t":2001.98,"v":-0.065},{"p":"E","t":2002.12,"v":-0.079},{"p":"E","t":2002.81,"v":-0.076},{"p":"E","t":2002.93,"v":-0.062},{"p":"E","t":2003.05,"v":-0.074},{"p":"E","t":2003.8,"v":-0.065},{"p":"E","t":2004.09,"v":-0.058},{"p":"E","t":2004.79,"v":-0.051},{"p":"E","t":2005.02,"v":-0.041},{"p":"E","t":2005.2,"v":-0.017},{"p":"E","t":2005.84,"v":-0.02},{"p":"E","t":2006.01,"v":-0.031},{"p":"E","t":2006.19,"v":-0.015},{"p":"E","t":2006.88,"v":-0.013},{"p":"E","t":2007.03,"v":-0.021},{"p":"E","t":2007.2,"v":0.004},{"p":"E","t":2007.81,"v":0.008},{"p":"E","t":2007.98,"v":0.019},{"p":"E","t":2008.16,"v":0.04},{"p":"E","t":2008.5,"v":0.05},{"p":"E","t":2008.84,"v":0.057},{"p":"E","t":2009.01,"v":0.065},{"p":"E","t":2009.24,"v":0.061},{"p":"E","t":2009.83,"v":0.06},{"p":"E","t":2010.17,"v":0.076},{"p":"E","t":2010.81,"v":0.07},{"p":"E","t":2011.22,"v":0.057},{"p":"E","t":2011.74,"v":0.051},{"p":"E","t":2011.98,"v":0.04},{"p":"E","t":2012.21,"v":0.022},{"p":"E","t":2012.79,"v":0.009},{"p":"E","t":2013.02,"v":-0.002},{"p":"E","t":2013.26,"v":-0.02},{"p":"E","t":2013.84,"v":-0.021},{"p":"E","t":2014.07,"v":-0.004},{"p":"E","t":2014.65,"v":0.002},{"p":"E","t":2015.0,"v":0.011},{"p":"E","t":2015.23,"v":0.02},{"p":"E","t":2015.81,"v":0.023},{"p":"E","t":2015.99,"v":0.037},{"p":"E","t":2016.22,"v":0.053},{"p":"E","t":2016.86,"v":0.056},{"p":"E","t":2017.03,"v":0.07},{"p":"E","t":2017.79,"v":0.081},{"p":"E","t":2017.97,"v":0.076},{"p":"E","t":2018.14,"v":0.07},{"p":"E","t":2018.25,"v":0.062},
{"p":"W","t":1998.78,"v":-0.001},{"p":"W","t":1998.88,"v":-0.005},{"p":"W","t":1998.99,"v":0.002},{"p":"W","t":1999.13,"v":-0.02},{"p":"W","t":1999.83,"v":-0.021},{"p":"W","t":1999.94,"v":-0.012},{"p":"W","t":2000.17,"v":-0.025},{"p":"W","t":2000.81,"v":-0.026},{"p":"W","t":2000.99,"v":-0.036},{"p":"W","t":2001.22,"v":-0.048},{"p":"W","t":2001.8,"v":-0.047},{"p":"W","t":2001.92,"v":-0.036},{"p":"W","t":2002.15,"v":-0.022},{"p":"W","t":2002.85,"v":-0.021},{"p":"W","t":2003.0,"v":-0.024},{"p":"W","t":2003.2,"v":-0.009},{"p":"W","t":2003.78,"v":-0.009},{"p":"W","t":2003.95,"v":-0.025},{"p":"W","t":2004.13,"v":-0.015},{"p":"W","t":2004.94,"v":-0.011},{"p":"W","t":2005.12,"v":0.002},{"p":"W","t":2005.87,"v":0.005},{"p":"W","t":2005.99,"v":0.002},{"p":"W","t":2006.16,"v":0.008},{"p":"W","t":2006.8,"v":0.003},{"p":"W","t":2006.92,"v":-0.004},{"p":"W","t":2007.73,"v":-0.007},{"p":"W","t":2007.85,"v":-0.004},{"p":"W","t":2008.02,"v":0.013},{"p":"W","t":2008.2,"v":0.019},{"p":"W","t":2008.66,"v":0.021},{"p":"W","t":2008.9,"v":0.019},{"p":"W","t":2009.1,"v":0.026},{"p":"W","t":2009.92,"v":0.031},{"p":"W","t":2010.03,"v":0.032},{"p":"W","t":2010.21,"v":0.017},{"p":"W","t":2010.85,"v":0.014},{"p":"W","t":2010.97,"v":0.02},{"p":"W","t":2011.14,"v":0.017},{"p":"W","t":2011.9,"v":0.017},{"p":"W","t":2012.02,"v":0.014},{"p":"W","t":2012.19,"v":0.009},{"p":"W","t":2012.94,"v":0.004},{"p":"W","t":2013.17,"v":-0.004},{"p":"W","t":2013.81,"v":-0.008},{"p":"W","t":2013.93,"v":-0.013},{"p":"W","t":2014.1,"v":-0.004},{"p":"W","t":2014.22,"v":0.002},{"p":"W","t":2014.92,"v":0.005},{"p":"W","t":2015.09,"v":0.0},{"p":"W","t":2015.27,"v":0.007},{"p":"W","t":2015.97,"v":0.011},{"p":"W","t":2016.2,"v":0.016},{"p":"W","t":2017.01,"v":0.022},{"p":"W","t":2017.83,"v":0.026},{"p":"W","t":2017.97,"v":0.033},{"p":"W","t":2018.12,"v":0.031},{"p":"W","t":2018.21,"v":0.024},
{"p":"P","t":1998.76,"v":-0.03},{"p":"P","t":1998.86,"v":-0.023},{"p":"P","t":1998.98,"v":-0.025},{"p":"P","t":1999.15,"v":-0.047},{"p":"P","t":1999.9,"v":-0.039},{"p":"P","t":2000.02,"v":-0.02},{"p":"P","t":2000.14,"v":-0.007},{"p":"P","t":2000.84,"v":-0.008},{"p":"P","t":2000.95,"v":-0.014},{"p":"P","t":2001.13,"v":-0.058},{"p":"P","t":2001.24,"v":-0.063},{"p":"P","t":2001.94,"v":-0.061},{"p":"P","t":2002.12,"v":-0.083},{"p":"P","t":2002.93,"v":-0.082},{"p":"P","t":2003.1,"v":-0.069},{"p":"P","t":2003.98,"v":-0.063},{"p":"P","t":2004.15,"v":-0.099},{"p":"P","t":2004.79,"v":-0.098},{"p":"P","t":2004.97,"v":-0.085},{"p":"P","t":2005.2,"v":-0.025},{"p":"P","t":2005.84,"v":-0.014},{"p":"P","t":2005.95,"v":0.002},{"p":"P","t":2006.24,"v":0.035},{"p":"P","t":2006.88,"v":0.035},{"p":"P","t":2007.0,"v":0.033},{"p":"P","t":2007.17,"v":0.06},{"p":"P","t":2007.81,"v":0.051},{"p":"P","t":2007.98,"v":0.027},{"p":"P","t":2008.16,"v":0.032},{"p":"P","t":2008.5,"v":0.037},{"p":"P","t":2008.78,"v":0.031},{"p":"P","t":2008.95,"v":0.024},{"p":"P","t":2009.19,"v":0.053},{"p":"P","t":2009.88,"v":0.056},{"p":"P","t":2010.06,"v":0.059},{"p":"P","t":2010.3,"v":0.056},{"p":"P","t":2010.93,"v":0.059},{"p":"P","t":2011.02,"v":0.062},{"p":"P","t":2011.19,"v":0.002},{"p":"P","t":2011.8,"v":-0.005},{"p":"P","t":2012.03,"v":0.035},{"p":"P","t":2012.79,"v":0.038},{"p":"P","t":2013.02,"v":0.059},{"p":"P","t":2013.26,"v":0.044},{"p":"P","t":2013.95,"v":0.039},{"p":"P","t":2014.19,"v":0.026},{"p":"P","t":2014.83,"v":0.022},{"p":"P","t":2015.06,"v":-0.011},{"p":"P","t":2015.23,"v":0.013},{"p":"P","t":2015.81,"v":0.014},{"p":"P","t":2016.05,"v":0.035},{"p":"P","t":2016.86,"v":0.037},{"p":"P","t":2017.21,"v":0.022},{"p":"P","t":2017.97,"v":0.02},{"p":"P","t":2018.14,"v":0.014},{"p":"P","t":2018.23,"v":0.008}
]},
"columns":2,
"bounds":"flush",
"spacing":{"row":28.7,"column":47.3},
"concat":[
{"width":559.1,"height":183.3,"layer":[
{"data":{"name":"shade"},"mark":{"type":"rect","color":"#e6e6e6"},"encoding":{"x":{"field":"s","type":"quantitative","scale":{"domain":[1998.755,2018.255]},"axis":{"orient":"bottom","values":[1999,2000,2001,2002,2003,2004,2005,2006,2007,2008,2009,2010,2011,2012,2013,2014,2015,2016,2017,2018],"format":"d","labelExpr":"datum.value % 5 === 0 ? datum.label : ''","tickSize":4,"labelPadding":2,"labelFlush":false,"labelOverlap":false,"title":null}},"x2":{"field":"e"}}},
{"data":{"values":[{}]},"mark":{"type":"rule","color":"#000","strokeDash":[5,4],"strokeWidth":0.8},"encoding":{"y":{"datum":0,"type":"quantitative","scale":{"domain":[-0.3,0.3]},"axis":{"orient":"left","values":[-0.3,-0.29,-0.28,-0.27,-0.26,-0.25,-0.24,-0.23,-0.22,-0.21,-0.2,-0.19,-0.18,-0.17,-0.16,-0.15,-0.14,-0.13,-0.12,-0.11,-0.1,-0.09,-0.08,-0.07,-0.06,-0.05,-0.04,-0.03,-0.02,-0.01,0,0.01,0.02,0.03,0.04,0.05,0.06,0.07,0.08,0.09,0.1,0.11,0.12,0.13,0.14,0.15,0.16,0.17,0.18,0.19,0.2,0.21,0.22,0.23,0.24,0.25,0.26,0.27,0.28,0.29,0.3],"tickSize":{"condition":{"test":"abs(datum.value*10-round(datum.value*10))<0.001","value":5},"value":2.5},"labelExpr":"abs(datum.value*10-round(datum.value*10))<0.001 ? (abs(datum.value)<0.001 ? '-0.0' : (datum.value<0 ? '-' : '') + format(abs(datum.value),'.1f')) : ''","labelOverlap":false,"labelPadding":3,"title":"Total abundance anomaly","titlePadding":8}}}},
{"data":{"name":"pts"},"transform":[{"filter":"datum.p=='A'"}],"mark":{"type":"line","color":"#111","strokeWidth":0.8,"clip":true},"encoding":{"x":{"field":"t","type":"quantitative","scale":{"domain":[1998.755,2018.255]},"axis":null},"y":{"field":"v","type":"quantitative","scale":{"domain":[-0.3,0.3]},"axis":null},"detail":{"field":"g"}}},
{"data":{"name":"pts"},"transform":[{"filter":"datum.p=='A'"}],"mark":{"type":"point","shape":"diamond","filled":true,"size":22,"color":"#000","opacity":1,"clip":true},"encoding":{"x":{"field":"t","type":"quantitative","scale":{"domain":[1998.755,2018.255]},"axis":null},"y":{"field":"v","type":"quantitative","scale":{"domain":[-0.3,0.3]},"axis":null}}},
{"data":{"name":"red"},"transform":[{"filter":"datum.p=='A'"}],"mark":{"type":"line","color":"#ff0000","strokeWidth":1.6,"clip":true},"encoding":{"x":{"field":"t","type":"quantitative","scale":{"domain":[1998.755,2018.255]},"axis":{"orient":"top","values":[1999,2000,2001,2002,2003,2004,2005,2006,2007,2008,2009,2010,2011,2012,2013,2014,2015,2016,2017,2018],"labels":false,"tickSize":4,"title":null}},"y":{"field":"v","type":"quantitative","scale":{"domain":[-0.3,0.3]},"axis":{"orient":"right","values":[-0.3,-0.29,-0.28,-0.27,-0.26,-0.25,-0.24,-0.23,-0.22,-0.21,-0.2,-0.19,-0.18,-0.17,-0.16,-0.15,-0.14,-0.13,-0.12,-0.11,-0.1,-0.09,-0.08,-0.07,-0.06,-0.05,-0.04,-0.03,-0.02,-0.01,0,0.01,0.02,0.03,0.04,0.05,0.06,0.07,0.08,0.09,0.1,0.11,0.12,0.13,0.14,0.15,0.16,0.17,0.18,0.19,0.2,0.21,0.22,0.23,0.24,0.25,0.26,0.27,0.28,0.29,0.3],"tickSize":{"condition":{"test":"abs(datum.value*10-round(datum.value*10))<0.001","value":5},"value":2.5},"labels":false,"title":null}}}},
{"data":{"values":[{"n":"Atlantic"}]},"mark":{"type":"text","align":"left","baseline":"alphabetic","dx":1,"dy":20.5,"fontSize":15,"color":"#000","font":"Liberation Sans"},"encoding":{"x":{"datum":1999,"type":"quantitative","scale":{"domain":[1998.755,2018.255]},"axis":null},"y":{"datum":0.3,"type":"quantitative","scale":{"domain":[-0.3,0.3]},"axis":null},"text":{"field":"n"}}}
],"resolve":{"axis":{"x":"independent","y":"independent"}}},
{"width":556.8,"height":183.3,"layer":[
{"data":{"name":"shade"},"mark":{"type":"rect","color":"#e6e6e6"},"encoding":{"x":{"field":"s","type":"quantitative","scale":{"domain":[1998.78,2018.2]},"axis":{"orient":"bottom","values":[1999,2000,2001,2002,2003,2004,2005,2006,2007,2008,2009,2010,2011,2012,2013,2014,2015,2016,2017,2018],"format":"d","labelExpr":"datum.value % 5 === 0 ? datum.label : ''","tickSize":4,"labelPadding":2,"labelFlush":false,"labelOverlap":false,"title":null}},"x2":{"field":"e"}}},
{"data":{"values":[{}]},"mark":{"type":"rule","color":"#000","strokeDash":[5,4],"strokeWidth":0.8},"encoding":{"y":{"datum":0,"type":"quantitative","scale":{"domain":[-0.3,0.3]},"axis":{"orient":"left","values":[-0.3,-0.29,-0.28,-0.27,-0.26,-0.25,-0.24,-0.23,-0.22,-0.21,-0.2,-0.19,-0.18,-0.17,-0.16,-0.15,-0.14,-0.13,-0.12,-0.11,-0.1,-0.09,-0.08,-0.07,-0.06,-0.05,-0.04,-0.03,-0.02,-0.01,0,0.01,0.02,0.03,0.04,0.05,0.06,0.07,0.08,0.09,0.1,0.11,0.12,0.13,0.14,0.15,0.16,0.17,0.18,0.19,0.2,0.21,0.22,0.23,0.24,0.25,0.26,0.27,0.28,0.29,0.3],"tickSize":{"condition":{"test":"abs(datum.value*10-round(datum.value*10))<0.001","value":5},"value":2.5},"labelExpr":"abs(datum.value*10-round(datum.value*10))<0.001 ? (abs(datum.value)<0.001 ? '-0.0' : (datum.value<0 ? '-' : '') + format(abs(datum.value),'.1f')) : ''","labelOverlap":false,"labelPadding":3,"title":null}}}},
{"data":{"name":"pts"},"transform":[{"filter":"datum.p=='C'"}],"mark":{"type":"line","color":"#111","strokeWidth":0.8,"clip":true},"encoding":{"x":{"field":"t","type":"quantitative","scale":{"domain":[1998.78,2018.2]},"axis":null},"y":{"field":"v","type":"quantitative","scale":{"domain":[-0.3,0.3]},"axis":null},"detail":{"field":"g"}}},
{"data":{"name":"pts"},"transform":[{"filter":"datum.p=='C'"}],"mark":{"type":"point","shape":"diamond","filled":true,"size":22,"color":"#000","opacity":1,"clip":true},"encoding":{"x":{"field":"t","type":"quantitative","scale":{"domain":[1998.78,2018.2]},"axis":null},"y":{"field":"v","type":"quantitative","scale":{"domain":[-0.3,0.3]},"axis":null}}},
{"data":{"name":"red"},"transform":[{"filter":"datum.p=='C'"}],"mark":{"type":"line","color":"#ff0000","strokeWidth":1.6,"clip":true},"encoding":{"x":{"field":"t","type":"quantitative","scale":{"domain":[1998.78,2018.2]},"axis":{"orient":"top","values":[1999,2000,2001,2002,2003,2004,2005,2006,2007,2008,2009,2010,2011,2012,2013,2014,2015,2016,2017,2018],"labels":false,"tickSize":4,"title":null}},"y":{"field":"v","type":"quantitative","scale":{"domain":[-0.3,0.3]},"axis":{"orient":"right","values":[-0.3,-0.29,-0.28,-0.27,-0.26,-0.25,-0.24,-0.23,-0.22,-0.21,-0.2,-0.19,-0.18,-0.17,-0.16,-0.15,-0.14,-0.13,-0.12,-0.11,-0.1,-0.09,-0.08,-0.07,-0.06,-0.05,-0.04,-0.03,-0.02,-0.01,0,0.01,0.02,0.03,0.04,0.05,0.06,0.07,0.08,0.09,0.1,0.11,0.12,0.13,0.14,0.15,0.16,0.17,0.18,0.19,0.2,0.21,0.22,0.23,0.24,0.25,0.26,0.27,0.28,0.29,0.3],"tickSize":{"condition":{"test":"abs(datum.value*10-round(datum.value*10))<0.001","value":5},"value":2.5},"labels":false,"title":null}}}},
{"data":{"values":[{"n":"Central Indian"}]},"mark":{"type":"text","align":"left","baseline":"alphabetic","dx":0.5,"dy":20.5,"fontSize":15,"color":"#000","font":"Liberation Sans"},"encoding":{"x":{"datum":1999,"type":"quantitative","scale":{"domain":[1998.78,2018.2]},"axis":null},"y":{"datum":0.3,"type":"quantitative","scale":{"domain":[-0.3,0.3]},"axis":null},"text":{"field":"n"}}}
],"resolve":{"axis":{"x":"independent","y":"independent"}}},
{"width":559.1,"height":183.3,"layer":[
{"data":{"name":"shade"},"mark":{"type":"rect","color":"#e6e6e6"},"encoding":{"x":{"field":"s","type":"quantitative","scale":{"domain":[1998.755,2018.255]},"axis":{"orient":"bottom","values":[1999,2000,2001,2002,2003,2004,2005,2006,2007,2008,2009,2010,2011,2012,2013,2014,2015,2016,2017,2018],"format":"d","labelExpr":"datum.value % 5 === 0 ? datum.label : ''","tickSize":4,"labelPadding":2,"labelFlush":false,"labelOverlap":false,"title":null}},"x2":{"field":"e"}}},
{"data":{"values":[{}]},"mark":{"type":"rule","color":"#000","strokeDash":[5,4],"strokeWidth":0.8},"encoding":{"y":{"datum":0,"type":"quantitative","scale":{"domain":[-0.3,0.3]},"axis":{"orient":"left","values":[-0.3,-0.29,-0.28,-0.27,-0.26,-0.25,-0.24,-0.23,-0.22,-0.21,-0.2,-0.19,-0.18,-0.17,-0.16,-0.15,-0.14,-0.13,-0.12,-0.11,-0.1,-0.09,-0.08,-0.07,-0.06,-0.05,-0.04,-0.03,-0.02,-0.01,0,0.01,0.02,0.03,0.04,0.05,0.06,0.07,0.08,0.09,0.1,0.11,0.12,0.13,0.14,0.15,0.16,0.17,0.18,0.19,0.2,0.21,0.22,0.23,0.24,0.25,0.26,0.27,0.28,0.29,0.3],"tickSize":{"condition":{"test":"abs(datum.value*10-round(datum.value*10))<0.001","value":5},"value":2.5},"labelExpr":"abs(datum.value*10-round(datum.value*10))<0.001 ? (abs(datum.value)<0.001 ? '-0.0' : (datum.value<0 ? '-' : '') + format(abs(datum.value),'.1f')) : ''","labelOverlap":false,"labelPadding":3,"title":"Total abundance anomaly","titlePadding":8}}}},
{"data":{"name":"pts"},"transform":[{"filter":"datum.p=='E'"}],"mark":{"type":"line","color":"#111","strokeWidth":0.8,"clip":true},"encoding":{"x":{"field":"t","type":"quantitative","scale":{"domain":[1998.755,2018.255]},"axis":null},"y":{"field":"v","type":"quantitative","scale":{"domain":[-0.3,0.3]},"axis":null},"detail":{"field":"g"}}},
{"data":{"name":"pts"},"transform":[{"filter":"datum.p=='E'"}],"mark":{"type":"point","shape":"diamond","filled":true,"size":22,"color":"#000","opacity":1,"clip":true},"encoding":{"x":{"field":"t","type":"quantitative","scale":{"domain":[1998.755,2018.255]},"axis":null},"y":{"field":"v","type":"quantitative","scale":{"domain":[-0.3,0.3]},"axis":null}}},
{"data":{"name":"red"},"transform":[{"filter":"datum.p=='E'"}],"mark":{"type":"line","color":"#ff0000","strokeWidth":1.6,"clip":true},"encoding":{"x":{"field":"t","type":"quantitative","scale":{"domain":[1998.755,2018.255]},"axis":{"orient":"top","values":[1999,2000,2001,2002,2003,2004,2005,2006,2007,2008,2009,2010,2011,2012,2013,2014,2015,2016,2017,2018],"labels":false,"tickSize":4,"title":null}},"y":{"field":"v","type":"quantitative","scale":{"domain":[-0.3,0.3]},"axis":{"orient":"right","values":[-0.3,-0.29,-0.28,-0.27,-0.26,-0.25,-0.24,-0.23,-0.22,-0.21,-0.2,-0.19,-0.18,-0.17,-0.16,-0.15,-0.14,-0.13,-0.12,-0.11,-0.1,-0.09,-0.08,-0.07,-0.06,-0.05,-0.04,-0.03,-0.02,-0.01,0,0.01,0.02,0.03,0.04,0.05,0.06,0.07,0.08,0.09,0.1,0.11,0.12,0.13,0.14,0.15,0.16,0.17,0.18,0.19,0.2,0.21,0.22,0.23,0.24,0.25,0.26,0.27,0.28,0.29,0.3],"tickSize":{"condition":{"test":"abs(datum.value*10-round(datum.value*10))<0.001","value":5},"value":2.5},"labels":false,"title":null}}}},
{"data":{"values":[{"n":"East Indian"}]},"mark":{"type":"text","align":"left","baseline":"alphabetic","dx":1,"dy":20.5,"fontSize":15,"color":"#000","font":"Liberation Sans"},"encoding":{"x":{"datum":1999,"type":"quantitative","scale":{"domain":[1998.755,2018.255]},"axis":null},"y":{"datum":0.3,"type":"quantitative","scale":{"domain":[-0.3,0.3]},"axis":null},"text":{"field":"n"}}}
],"resolve":{"axis":{"x":"independent","y":"independent"}}},
{"width":556.8,"height":183.3,"layer":[
{"data":{"name":"shade"},"mark":{"type":"rect","color":"#e6e6e6"},"encoding":{"x":{"field":"s","type":"quantitative","scale":{"domain":[1998.78,2018.2]},"axis":{"orient":"bottom","values":[1999,2000,2001,2002,2003,2004,2005,2006,2007,2008,2009,2010,2011,2012,2013,2014,2015,2016,2017,2018],"format":"d","labelExpr":"datum.value % 5 === 0 ? datum.label : ''","tickSize":4,"labelPadding":2,"labelFlush":false,"labelOverlap":false,"title":"Year","titlePadding":2}},"x2":{"field":"e"}}},
{"data":{"values":[{}]},"mark":{"type":"rule","color":"#000","strokeDash":[5,4],"strokeWidth":0.8},"encoding":{"y":{"datum":0,"type":"quantitative","scale":{"domain":[-0.3,0.3]},"axis":{"orient":"left","values":[-0.3,-0.29,-0.28,-0.27,-0.26,-0.25,-0.24,-0.23,-0.22,-0.21,-0.2,-0.19,-0.18,-0.17,-0.16,-0.15,-0.14,-0.13,-0.12,-0.11,-0.1,-0.09,-0.08,-0.07,-0.06,-0.05,-0.04,-0.03,-0.02,-0.01,0,0.01,0.02,0.03,0.04,0.05,0.06,0.07,0.08,0.09,0.1,0.11,0.12,0.13,0.14,0.15,0.16,0.17,0.18,0.19,0.2,0.21,0.22,0.23,0.24,0.25,0.26,0.27,0.28,0.29,0.3],"tickSize":{"condition":{"test":"abs(datum.value*10-round(datum.value*10))<0.001","value":5},"value":2.5},"labelExpr":"abs(datum.value*10-round(datum.value*10))<0.001 ? (abs(datum.value)<0.001 ? '-0.0' : (datum.value<0 ? '-' : '') + format(abs(datum.value),'.1f')) : ''","labelOverlap":false,"labelPadding":3,"title":null}}}},
{"data":{"name":"pts"},"transform":[{"filter":"datum.p=='W'"}],"mark":{"type":"line","color":"#111","strokeWidth":0.8,"clip":true},"encoding":{"x":{"field":"t","type":"quantitative","scale":{"domain":[1998.78,2018.2]},"axis":null},"y":{"field":"v","type":"quantitative","scale":{"domain":[-0.3,0.3]},"axis":null},"detail":{"field":"g"}}},
{"data":{"name":"pts"},"transform":[{"filter":"datum.p=='W'"}],"mark":{"type":"point","shape":"diamond","filled":true,"size":22,"color":"#000","opacity":1,"clip":true},"encoding":{"x":{"field":"t","type":"quantitative","scale":{"domain":[1998.78,2018.2]},"axis":null},"y":{"field":"v","type":"quantitative","scale":{"domain":[-0.3,0.3]},"axis":null}}},
{"data":{"name":"red"},"transform":[{"filter":"datum.p=='W'"}],"mark":{"type":"line","color":"#ff0000","strokeWidth":1.6,"clip":true},"encoding":{"x":{"field":"t","type":"quantitative","scale":{"domain":[1998.78,2018.2]},"axis":{"orient":"top","values":[1999,2000,2001,2002,2003,2004,2005,2006,2007,2008,2009,2010,2011,2012,2013,2014,2015,2016,2017,2018],"labels":false,"tickSize":4,"title":null}},"y":{"field":"v","type":"quantitative","scale":{"domain":[-0.3,0.3]},"axis":{"orient":"right","values":[-0.3,-0.29,-0.28,-0.27,-0.26,-0.25,-0.24,-0.23,-0.22,-0.21,-0.2,-0.19,-0.18,-0.17,-0.16,-0.15,-0.14,-0.13,-0.12,-0.11,-0.1,-0.09,-0.08,-0.07,-0.06,-0.05,-0.04,-0.03,-0.02,-0.01,0,0.01,0.02,0.03,0.04,0.05,0.06,0.07,0.08,0.09,0.1,0.11,0.12,0.13,0.14,0.15,0.16,0.17,0.18,0.19,0.2,0.21,0.22,0.23,0.24,0.25,0.26,0.27,0.28,0.29,0.3],"tickSize":{"condition":{"test":"abs(datum.value*10-round(datum.value*10))<0.001","value":5},"value":2.5},"labels":false,"title":null}}}},
{"data":{"values":[{"n":"West Pacific"}]},"mark":{"type":"text","align":"left","baseline":"alphabetic","dx":0.5,"dy":20.5,"fontSize":15,"color":"#000","font":"Liberation Sans"},"encoding":{"x":{"datum":1999,"type":"quantitative","scale":{"domain":[1998.78,2018.2]},"axis":null},"y":{"datum":0.3,"type":"quantitative","scale":{"domain":[-0.3,0.3]},"axis":null},"text":{"field":"n"}}}
],"resolve":{"axis":{"x":"independent","y":"independent"}}},
{"width":559.1,"height":183.3,"layer":[
{"data":{"name":"shade"},"mark":{"type":"rect","color":"#e6e6e6"},"encoding":{"x":{"field":"s","type":"quantitative","scale":{"domain":[1998.755,2018.255]},"axis":{"orient":"bottom","values":[1999,2000,2001,2002,2003,2004,2005,2006,2007,2008,2009,2010,2011,2012,2013,2014,2015,2016,2017,2018],"format":"d","labelExpr":"datum.value % 5 === 0 ? datum.label : ''","tickSize":4,"labelPadding":2,"labelFlush":false,"labelOverlap":false,"title":"Year","titlePadding":2}},"x2":{"field":"e"}}},
{"data":{"values":[{}]},"mark":{"type":"rule","color":"#000","strokeDash":[5,4],"strokeWidth":0.8},"encoding":{"y":{"datum":0,"type":"quantitative","scale":{"domain":[-0.3,0.3]},"axis":{"orient":"left","values":[-0.3,-0.29,-0.28,-0.27,-0.26,-0.25,-0.24,-0.23,-0.22,-0.21,-0.2,-0.19,-0.18,-0.17,-0.16,-0.15,-0.14,-0.13,-0.12,-0.11,-0.1,-0.09,-0.08,-0.07,-0.06,-0.05,-0.04,-0.03,-0.02,-0.01,0,0.01,0.02,0.03,0.04,0.05,0.06,0.07,0.08,0.09,0.1,0.11,0.12,0.13,0.14,0.15,0.16,0.17,0.18,0.19,0.2,0.21,0.22,0.23,0.24,0.25,0.26,0.27,0.28,0.29,0.3],"tickSize":{"condition":{"test":"abs(datum.value*10-round(datum.value*10))<0.001","value":5},"value":2.5},"labelExpr":"abs(datum.value*10-round(datum.value*10))<0.001 ? (abs(datum.value)<0.001 ? '-0.0' : (datum.value<0 ? '-' : '') + format(abs(datum.value),'.1f')) : ''","labelOverlap":false,"labelPadding":3,"title":"Total abundance anomaly","titlePadding":8}}}},
{"data":{"name":"pts"},"transform":[{"filter":"datum.p=='P'"}],"mark":{"type":"line","color":"#111","strokeWidth":0.8,"clip":true},"encoding":{"x":{"field":"t","type":"quantitative","scale":{"domain":[1998.755,2018.255]},"axis":null},"y":{"field":"v","type":"quantitative","scale":{"domain":[-0.3,0.3]},"axis":null},"detail":{"field":"g"}}},
{"data":{"name":"pts"},"transform":[{"filter":"datum.p=='P'"}],"mark":{"type":"point","shape":"diamond","filled":true,"size":22,"color":"#000","opacity":1,"clip":true},"encoding":{"x":{"field":"t","type":"quantitative","scale":{"domain":[1998.755,2018.255]},"axis":null},"y":{"field":"v","type":"quantitative","scale":{"domain":[-0.3,0.3]},"axis":null}}},
{"data":{"name":"red"},"transform":[{"filter":"datum.p=='P'"}],"mark":{"type":"line","color":"#ff0000","strokeWidth":1.6,"clip":true},"encoding":{"x":{"field":"t","type":"quantitative","scale":{"domain":[1998.755,2018.255]},"axis":{"orient":"top","values":[1999,2000,2001,2002,2003,2004,2005,2006,2007,2008,2009,2010,2011,2012,2013,2014,2015,2016,2017,2018],"labels":false,"tickSize":4,"title":null}},"y":{"field":"v","type":"quantitative","scale":{"domain":[-0.3,0.3]},"axis":{"orient":"right","values":[-0.3,-0.29,-0.28,-0.27,-0.26,-0.25,-0.24,-0.23,-0.22,-0.21,-0.2,-0.19,-0.18,-0.17,-0.16,-0.15,-0.14,-0.13,-0.12,-0.11,-0.1,-0.09,-0.08,-0.07,-0.06,-0.05,-0.04,-0.03,-0.02,-0.01,0,0.01,0.02,0.03,0.04,0.05,0.06,0.07,0.08,0.09,0.1,0.11,0.12,0.13,0.14,0.15,0.16,0.17,0.18,0.19,0.2,0.21,0.22,0.23,0.24,0.25,0.26,0.27,0.28,0.29,0.3],"tickSize":{"condition":{"test":"abs(datum.value*10-round(datum.value*10))<0.001","value":5},"value":2.5},"labels":false,"title":null}}}},
{"data":{"values":[{"n":"East Pacific"}]},"mark":{"type":"text","align":"left","baseline":"alphabetic","dx":1,"dy":20.5,"fontSize":15,"color":"#000","font":"Liberation Sans"},"encoding":{"x":{"datum":1999,"type":"quantitative","scale":{"domain":[1998.755,2018.255]},"axis":null},"y":{"datum":0.3,"type":"quantitative","scale":{"domain":[-0.3,0.3]},"axis":null},"text":{"field":"n"}}}
],"resolve":{"axis":{"x":"independent","y":"independent"}}}
]
}
